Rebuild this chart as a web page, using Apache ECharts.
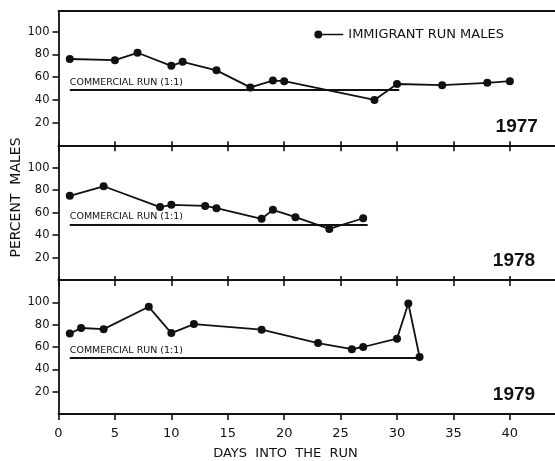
<!DOCTYPE html>
<html lang="en">
<head>
    <meta charset="UTF-8">
    <title>Percent males - immigrant run</title>
    <style>
        html, body {
            margin: 0;
            padding: 0;
            background: #ffffff;
        }

        #chart {
            width: 555px;
            height: 461px;
        }
    </style>
</head>
<body>
<div id="chart"></div>
<script src="https://cdn.jsdelivr.net/npm/echarts@6/dist/echarts.min.js"></script>
<script>
    /*data*/
    var years = ['1977', '1978', '1979'];

    var days1977 = [1, 5, 7, 10, 11, 14, 17, 19, 20, 28, 30, 34, 38, 40];
    var males1977 = [76, 75, 81.5, 70, 73.5, 66, 51, 57, 56.5, 40, 54, 53, 55, 56.5];

    var days1978 = [1, 4, 9, 10, 13, 14, 18, 19, 21, 24, 27];
    var males1978 = [75, 83.5, 65, 67, 66, 64, 54.5, 62.5, 56, 45.5, 55];

    var days1979 = [1, 2, 4, 8, 10, 12, 18, 23, 26, 27, 30, 31, 32];
    var males1979 = [72, 77, 76, 96, 72.5, 80.5, 75.5, 63.5, 58, 60, 67.5, 99, 51];

    // commercial run (1:1) reference line: [start day, end day, level]
    var commercial1977 = [1, 30.2, 48.5];
    var commercial1978 = [1, 27.4, 49.5];
    var commercial1979 = [1, 32, 50];

    var xTicks = [0, 5, 10, 15, 20, 25, 30, 35, 40];
    var yTicks = [20, 40, 60, 80, 100];

    var seriesName = 'IMMIGRANT RUN MALES';
    var commercialText = 'COMMERCIAL RUN (1:1)';

    var font = 'DejaVu Sans';
    var black = '#111111';

    var chart = echarts.init(document.getElementById('chart'), null, {renderer: 'canvas'});

    var grids = [
        {left: 58.5, right: 0, top: 11, height: 134.3},
        {left: 58.5, right: 0, top: 145.3, height: 134.7},
        {left: 58.5, right: 0, top: 280, height: 134}
    ];
    var yMax = [118.3, 120, 120];

    function pairs(xs, ys) {
        var out = [];
        for (var i = 0; i < xs.length; i++) {
            out.push([xs[i], ys[i]]);
        }
        return out;
    }

    var xAxes = [];
    var yAxes = [];
    for (var g = 0; g < 3; g++) {
        // bottom edge of each panel
        xAxes.push({
            gridIndex: g,
            type: 'value',
            position: 'bottom',
            min: 0,
            max: 44,
            splitLine: {show: false},
            axisLine: {show: true, onZero: false, lineStyle: {color: black, width: 1.8}},
            axisTick: {
                show: true,
                inside: g < 2,
                length: g < 2 ? 4 : 6,
                customValues: xTicks,
                lineStyle: {color: black, width: 1.6}
            },
            axisLabel: {
                show: g === 2,
                customValues: xTicks,
                margin: 13,
                fontFamily: font,
                fontSize: 13,
                color: black
            }
        });
        // top edge of each panel
        xAxes.push({
            gridIndex: g,
            type: 'value',
            position: 'top',
            min: 0,
            max: 44,
            splitLine: {show: false},
            axisLine: {show: true, onZero: false, lineStyle: {color: black, width: 1.8}},
            axisTick: {
                show: g > 0,
                inside: true,
                length: 6,
                customValues: xTicks,
                lineStyle: {color: black, width: 1.6}
            },
            axisLabel: {show: false}
        });
        yAxes.push({
            gridIndex: g,
            type: 'value',
            min: 0,
            max: yMax[g],
            splitLine: {show: false},
            axisLine: {show: true, lineStyle: {color: black, width: 1.8}},
            axisTick: {
                show: true,
                length: 6,
                customValues: yTicks,
                lineStyle: {color: black, width: 1.6}
            },
            axisLabel: {
                customValues: yTicks,
                margin: 9,
                fontFamily: font,
                fontSize: 11.5,
                color: black
            }
        });
    }

    function makeSeries(g, xs, ys, commercial) {
        return {
            name: seriesName,
            type: 'line',
            xAxisIndex: g * 2,
            yAxisIndex: g,
            data: pairs(xs, ys),
            symbol: 'circle',
            symbolSize: 8,
            showSymbol: true,
            lineStyle: {color: black, width: 1.8},
            itemStyle: {color: black},
            emphasis: {disabled: true},
            animation: false,
            markLine: {
                silent: true,
                symbol: 'none',
                animation: false,
                lineStyle: {color: black, width: 1.8, type: 'solid'},
                label: {
                    show: true,
                    position: 'insideStartTop',
                    distance: [0, 3],
                    formatter: commercialText,
                    fontFamily: font,
                    fontSize: 9.5,
                    color: black
                },
                data: [[
                    {coord: [commercial[0], commercial[2]]},
                    {coord: [commercial[1], commercial[2]]}
                ]]
            }
        };
    }

    var yearCenters = [[516.7, 126.3], [514, 261], [514, 395]];
    var graphics = [
        {
            type: 'text',
            x: 16.5,
            y: 197.5,
            rotation: Math.PI / 2,
            style: {
                text: 'PERCENT  MALES',
                fill: black,
                font: '14px "DejaVu Sans"',
                textAlign: 'center',
                textVerticalAlign: 'middle'
            }
        },
        {
            type: 'text',
            x: 285.5,
            y: 453.3,
            style: {
                text: 'DAYS  INTO  THE  RUN',
                fill: black,
                font: '13px "DejaVu Sans"',
                textAlign: 'center',
                textVerticalAlign: 'middle'
            }
        }
    ];
    for (var k = 0; k < years.length; k++) {
        graphics.push({
            type: 'text',
            x: yearCenters[k][0],
            y: yearCenters[k][1],
            style: {
                text: years[k],
                fill: black,
                font: 'bold 19px "Liberation Sans"',
                textAlign: 'center',
                textVerticalAlign: 'middle'
            }
        });
    }

    var option = {
        backgroundColor: '#ffffff',
        animation: false,
        grid: grids,
        xAxis: xAxes,
        yAxis: yAxes,
        legend: {
            data: [seriesName],
            left: 314.3,
            top: 28,
            padding: 0,
            selectedMode: false,
            icon: 'path://M0,4 A4,4 0 1,1 8,4 A4,4 0 1,1 0,4 Z M7,3.2 L29,3.2 L29,4.8 L7,4.8 Z',
            itemWidth: 29,
            itemHeight: 8,
            itemGap: 5,
            textStyle: {fontFamily: font, fontSize: 13, color: black}
        },
        graphic: graphics,
        series: [
            makeSeries(0, days1977, males1977, commercial1977),
            makeSeries(1, days1978, males1978, commercial1978),
            makeSeries(2, days1979, males1979, commercial1979)
        ]
    };
    chart.setOption(option);
</script>
</body>
</html>
